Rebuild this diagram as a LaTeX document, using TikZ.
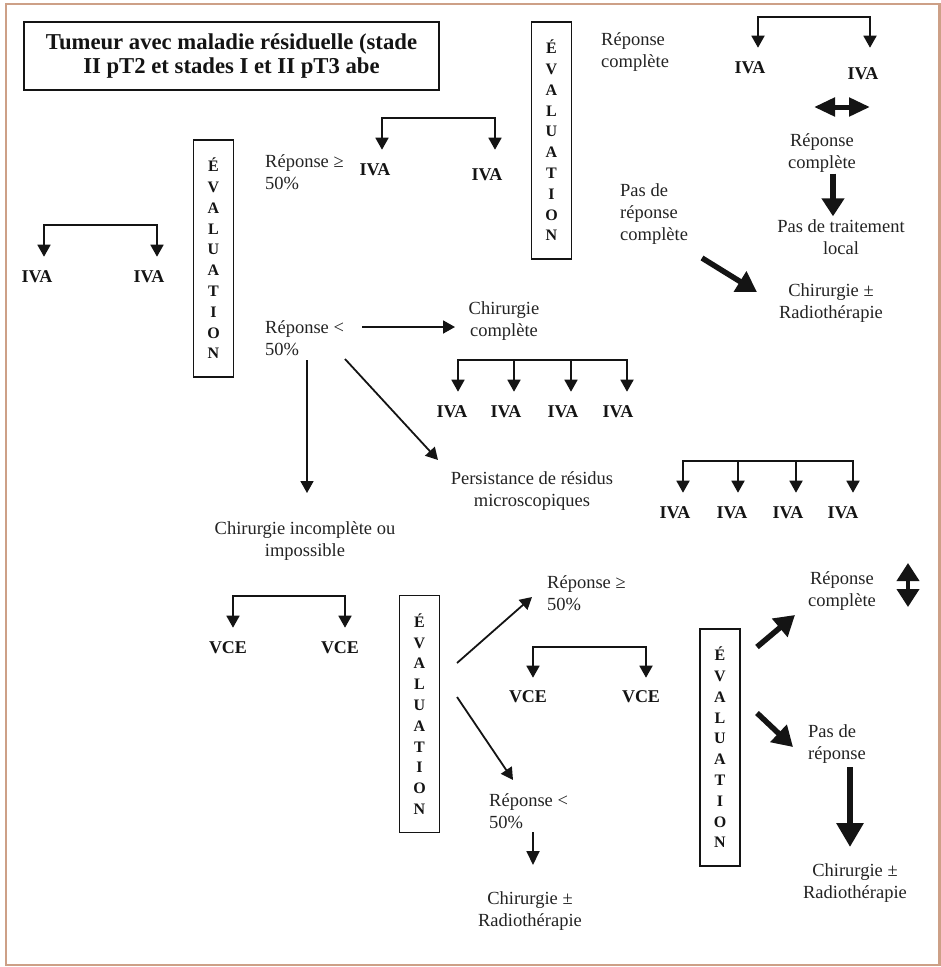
\documentclass[tikz,border=0pt]{standalone}
\usepackage{fontspec}
\setmainfont{Liberation Serif}
\usetikzlibrary{arrows.meta}
\definecolor{ink}{RGB}{20,20,20}
\definecolor{txtc}{RGB}{35,35,35}
\definecolor{framec}{RGB}{205,160,135}
\begin{document}
\begin{tikzpicture}[x=1pt,y=-1pt,
  txt/.style={inner sep=0pt, text=txtc, font=\fontsize{18.5}{22}\selectfont, align=center},
  txtl/.style={txt, align=left, anchor=west},
  lbl/.style={inner sep=0pt, text=ink, font=\bfseries\fontsize{18}{20}\selectfont},
  evalbox/.style={draw=ink, line width=1.6pt, minimum width=40pt, minimum height=237pt, inner sep=0pt, align=center, text=ink, font=\bfseries\fontsize{16}{20.8}\selectfont},
  arr/.style={draw=ink, line width=1.8pt, -{Triangle[width=13pt,length=12pt]}},
  tarr/.style={draw=ink, line width=5.5pt, -{Triangle[width=23pt,length=20pt]}},
  tdarrh/.style={draw=ink, line width=5pt, {Triangle[width=18pt,length=21pt]}-{Triangle[width=18pt,length=21pt]}},
  tdarrv/.style={draw=ink, line width=4pt, {Triangle[width=22pt,length=18pt]}-{Triangle[width=22pt,length=18pt]}},
]
\useasboundingbox (0,0) rectangle (941,967);
\draw[framec, line width=2.5pt] (6,4) rectangle (939.5,965);

% title
\node[draw=ink, line width=1.6pt, minimum width=415pt, minimum height=68pt, inner sep=0pt,
      align=center, text=ink, font=\bfseries\fontsize{22.7}{23.5}\selectfont]
  (title) at (231.5,56) {Tumeur avec maladie résiduelle (stade\\II pT2 et stades I et II pT3 abe};

% left IVA pair
\node[lbl] (l1) at (37,277) {IVA};
\node[lbl] (l2) at (149,277) {IVA};
\coordinate (kl) at (100,225);
\draw[arr, shorten >=14pt] (kl) -| ([xshift=7pt]l1.north);
\draw[arr, shorten >=14pt] (kl) -| ([xshift=8pt]l2.north);

% evaluation boxes
\node[evalbox] (ev1) at (213.5,258.5) {É\\V\\A\\L\\U\\A\\T\\I\\O\\N};
\node[evalbox] (ev2) at (551.5,140.5) {É\\V\\A\\L\\U\\A\\T\\I\\O\\N};
\node[evalbox] (ev3) at (419.5,714) {É\\V\\A\\L\\U\\A\\T\\I\\O\\N};
\node[evalbox] (ev4) at (720,747.5) {É\\V\\A\\L\\U\\A\\T\\I\\O\\N};

% response >= 50% (top)
\node[txtl] (rge1) at (265,172) {Réponse ≥\\50\%};
\node[lbl] (m1) at (375,170) {IVA};
\node[lbl] (m2) at (487,175) {IVA};
\coordinate (km) at (438,118);
\draw[arr, shorten >=14pt] (km) -| ([xshift=7pt]m1.north);
\draw[arr, shorten >=19pt] (km) -| ([xshift=8pt]m2.north);

% top right
\node[txtl] (rc1) at (601,52) {Réponse\\complète};
\node[lbl] (t1) at (750,68) {IVA};
\node[lbl] (t2) at (863,74) {IVA};
\coordinate (kt) at (814,17);
\draw[arr, shorten >=14pt] (kt) -| ([xshift=8pt]t1.north);
\draw[arr, shorten >=20pt] (kt) -| ([xshift=7pt]t2.north);
\coordinate (dh1) at (814,107);
\coordinate (dh2) at (870,107);
\draw[tdarrh] (dh1) -- (dh2);
\node[txt] (rc2) at (822,153) {Réponse\\complète};
\node[txt] (ptl) at (841,237) {Pas de traitement\\local};
\draw[tarr, -{Triangle[width=22pt,length=18pt]}] ([yshift=-1pt]rc2.south -| 833,0) -- ([yshift=3pt]ptl.north -| 833,0);
\node[txtl] (prc) at (620,214) {Pas de\\réponse\\complète};
\node[txt] (cr1) at (831,303) {Chirurgie ±\\Radiothérapie};
\coordinate (d1a) at (702,258);
\coordinate (d1b) at (757,292);
\draw[tarr] (d1a) -- (d1b);

% response < 50% (top)
\node[txtl] (rl1) at (265,338) {Réponse <\\50\%};
\node[txt] (chc) at (504,321) {Chirurgie\\complète};
\coordinate (h1a) at (362,327);
\coordinate (h1b) at (455,327);
\draw[arr] (h1a) -- (h1b);

\node[lbl] (a1) at (452,412) {IVA};
\node[lbl] (a2) at (506,412) {IVA};
\node[lbl] (a3) at (563,412) {IVA};
\node[lbl] (a4) at (618,412) {IVA};
\coordinate (ka) at (542.5,360);
\draw[arr, shorten >=14pt] (ka) -| ([xshift=6pt]a1.north);
\draw[arr, shorten >=14pt] (ka) -| ([xshift=8pt]a2.north);
\draw[arr, shorten >=14pt] (ka) -| ([xshift=8pt]a3.north);
\draw[arr, shorten >=14pt] (ka) -| ([xshift=9pt]a4.north);

\node[txt] (cii) at (305,541) {Chirurgie incomplète ou\\impossible};
\coordinate (v1a) at (307,360);
\coordinate (v1b) at (307,493);
\draw[arr] (v1a) -- (v1b);
\node[txt] (prm) at (532,491) {Persistance de résidus\\microscopiques};
\coordinate (g1a) at (345,359);
\coordinate (g1b) at (438,460);
\draw[arr] (g1a) -- (g1b);

\node[lbl] (b1) at (675,513) {IVA};
\node[lbl] (b2) at (732,513) {IVA};
\node[lbl] (b3) at (788,513) {IVA};
\node[lbl] (b4) at (843,513) {IVA};
\coordinate (kb) at (768,461);
\draw[arr, shorten >=14pt] (kb) -| ([xshift=8pt]b1.north);
\draw[arr, shorten >=14pt] (kb) -| ([xshift=6pt]b2.north);
\draw[arr, shorten >=14pt] (kb) -| ([xshift=8pt]b3.north);
\draw[arr, shorten >=14pt] (kb) -| ([xshift=10pt]b4.north);

% bottom VCE
\node[lbl] (c1) at (228,648) {VCE};
\node[lbl] (c2) at (340,648) {VCE};
\coordinate (kc) at (289,596);
\draw[arr, shorten >=14pt] (kc) -| ([xshift=5pt]c1.north);
\draw[arr, shorten >=14pt] (kc) -| ([xshift=5pt]c2.north);

\node[txtl] (rge2) at (547,593) {Réponse ≥\\50\%};
\coordinate (g2a) at (457,663);
\coordinate (g2b) at (532,597);
\draw[arr] (g2a) -- (g2b);
\node[lbl] (e1) at (528,697) {VCE};
\node[lbl] (e2) at (641,697) {VCE};
\coordinate (ke) at (589.5,647);
\draw[arr, shorten >=13pt] (ke) -| ([xshift=5pt]e1.north);
\draw[arr, shorten >=13pt] (ke) -| ([xshift=5pt]e2.north);

\node[txtl] (rl2) at (489,811) {Réponse <\\50\%};
\coordinate (g3a) at (457,697);
\coordinate (g3b) at (513,780);
\draw[arr] (g3a) -- (g3b);
\node[txt] (cr2) at (530,911) {Chirurgie ±\\Radiothérapie};
\coordinate (s1a) at (533,832);
\coordinate (s1b) at (533,865);
\draw[arr, -{Triangle[width=13pt,length=14pt]}] (s1a) -- (s1b);

% bottom right
\node[txt] (rc3) at (842,591) {Réponse\\complète};
\coordinate (dv1) at (908,563);
\coordinate (dv2) at (908,607);
\draw[tdarrv] (dv1) -- (dv2);
\coordinate (g4a) at (757,647);
\coordinate (g4b) at (795,615);
\draw[tarr] (g4a) -- (g4b);
\node[txtl] (pdr) at (808,744) {Pas de\\réponse};
\coordinate (g5a) at (757,713);
\coordinate (g5b) at (793,747);
\draw[tarr] (g5a) -- (g5b);
\node[txt] (cr3) at (855,883) {Chirurgie ±\\Radiothérapie};
\coordinate (v2a) at (850,767);
\coordinate (v2b) at (850,847);
\draw[tarr, line width=6pt, -{Triangle[width=26pt,length=24pt]}] (v2a) -- (v2b);
\end{tikzpicture}
\end{document}
